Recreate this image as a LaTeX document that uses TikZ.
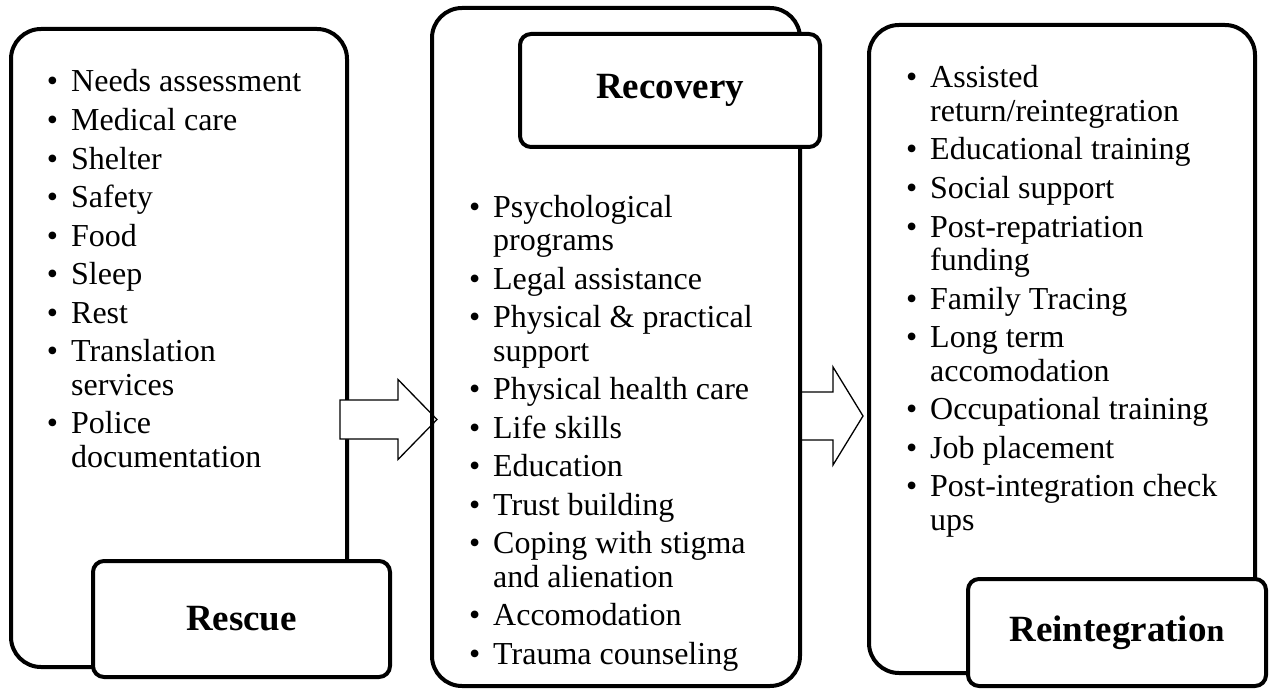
\documentclass[tikz,border=0pt]{standalone}
\usepackage{fontspec}
\setmainfont{Liberation Serif}
\newcommand{\bl}{\llap{\textbullet\hspace{13pt}}}
\tikzset{
  bigbox/.style={draw, line width=4pt, rounded corners=30pt, inner sep=0pt},
  labelbox/.style={draw, line width=4pt, rounded corners=11pt, fill=white, inner sep=0pt,
    font=\fontsize{37}{40}\selectfont\bfseries},
  item/.style={inner sep=0pt, anchor=base west, font=\fontsize{32}{33.5}\selectfont},
  flowarrow/.style={draw, line width=1.3pt, fill=white, line join=miter},
}
\begin{document}
\begin{tikzpicture}[x=1pt,y=-1pt]
\useasboundingbox (0,0) rectangle (1269,690);
% big boxes
\node[bigbox, minimum width=336pt, minimum height=638pt] (rescuebox) at (179,348) {};
\draw[flowarrow] (340,400) -- (398,400) -- (398,379.5) -- (437,419.5) -- (398,459.5) -- (398,439) -- (340,439) -- cycle;
\draw[flowarrow] (801,392) -- (833,392) -- (833,367) -- (863,416) -- (833,465) -- (833,440) -- (801,440) -- cycle;
\node[bigbox, minimum width=368pt, minimum height=678pt] (recoverybox) at (616,347) {};
\node[bigbox, minimum width=386pt, minimum height=648pt] (reintbox) at (1062,349) {};
% label boxes
\node[labelbox, minimum width=297pt, minimum height=116pt] (rescuelabel) at (241.5,619) {Rescue};
\node[labelbox, minimum width=300pt, minimum height=113pt] (recoverylabel) at (670,90.5) {Recovery};
\node[labelbox, minimum width=298pt, minimum height=107pt] (reintlabel) at (1117,632.5) {Reintegratio{\fontsize{32}{34}\selectfont n}};
% left list
\node[item] (l1) at (71,92) {\bl Needs assessment};
\node[item] (l2) at (71,130.5) {\bl Medical care};
\node[item] (l3) at (71,169) {\bl Shelter};
\node[item] (l4) at (71,207.5) {\bl Safety};
\node[item] (l5) at (71,246) {\bl Food};
\node[item] (l6) at (71,284.5) {\bl Sleep};
\node[item] (l7) at (71,323) {\bl Rest};
\node[item] (l8) at (71,361.5) {\bl Translation};
\node[item] (l9) at (71,395) {services};
\node[item] (l10) at (71,433.5) {\bl Police};
\node[item] (l11) at (71,467) {documentation};
% middle list
\node[item] (m1) at (493,217) {\bl Psychological};
\node[item] (m2) at (493,250.5) {programs};
\node[item] (m3) at (493,289) {\bl Legal assistance};
\node[item] (m4) at (493,327.5) {\bl Physical \& practical};
\node[item] (m5) at (493,361) {support};
\node[item] (m6) at (493,399.5) {\bl Physical health care};
\node[item] (m7) at (493,438) {\bl Life skills};
\node[item] (m8) at (493,476.5) {\bl Education};
\node[item] (m9) at (493,515) {\bl Trust building};
\node[item] (m10) at (493,553.5) {\bl Coping with stigma};
\node[item] (m11) at (493,587) {and alienation};
\node[item] (m12) at (493,625.5) {\bl Accomodation};
\node[item] (m13) at (493,664) {\bl Trauma counseling};
% right list
\node[item] (r1) at (930,88) {\bl Assisted};
\node[item] (r2) at (930,121.5) {return/reintegration};
\node[item] (r3) at (930,160) {\bl Educational training};
\node[item] (r4) at (930,198.5) {\bl Social support};
\node[item] (r5) at (930,237) {\bl Post-repatriation};
\node[item] (r6) at (930,270.5) {funding};
\node[item] (r7) at (930,309) {\bl Family Tracing};
\node[item] (r8) at (930,347.5) {\bl Long term};
\node[item] (r9) at (930,381) {accomodation};
\node[item] (r10) at (930,419.5) {\bl Occupational training};
\node[item] (r11) at (930,458) {\bl Job placement};
\node[item] (r12) at (930,496.5) {\bl Post-integration check};
\node[item] (r13) at (930,530) {ups};
\end{tikzpicture}
\end{document}
